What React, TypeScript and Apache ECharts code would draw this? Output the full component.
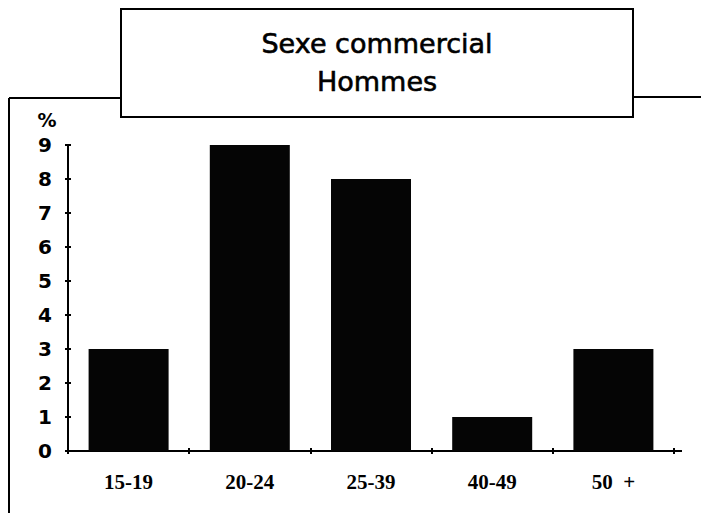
import React, { useEffect, useRef } from "react";
import * as echarts from "echarts";

const categories = ["15-19", "20-24", "25-39", "40-49", "50  +"];
const values = [3, 9, 8, 1, 3];
const yTicks = [0, 1, 2, 3, 4, 5, 6, 7, 8, 9];
const titleLines = ["Sexe commercial", "Hommes"];
const unitLabel = "%";

export default function App() {
  const ref = useRef<HTMLDivElement>(null);
  useEffect(() => {
    if (!ref.current) return;
    const chart = echarts.init(ref.current, null, { renderer: "svg" });
    const yMax = yTicks[yTicks.length - 1];
    const tickStyle = { color: "#000", width: 2 };
    chart.setOption({
      animation: false,
      backgroundColor: "#fff",
      grid: { left: 68, top: 145, right: 27, bottom: 62 },
      xAxis: [
        {
          type: "category",
          data: categories,
          boundaryGap: true,
          axisLine: { show: true, lineStyle: { color: "#000", width: 2 } },
          axisTick: { show: true, inside: false, length: 3, lineStyle: tickStyle },
          axisLabel: {
            color: "#000",
            fontFamily: "Liberation Serif",
            fontWeight: "bold",
            fontSize: 21,
            margin: 20,
          },
          splitLine: { show: false },
        },
        {
          type: "category",
          data: categories,
          position: "bottom",
          boundaryGap: true,
          axisLine: { show: false },
          axisTick: { show: true, inside: true, length: 3, lineStyle: tickStyle },
          axisLabel: { show: false },
          splitLine: { show: false },
        },
      ],
      yAxis: [
        {
          type: "value",
          min: 0,
          max: yMax,
          interval: 1,
          axisLine: { show: true, lineStyle: { color: "#000", width: 2 } },
          axisTick: { show: true, inside: false, length: 3, lineStyle: tickStyle },
          axisLabel: {
            color: "#000",
            fontFamily: "DejaVu Sans",
            fontWeight: "bold",
            fontSize: 20,
            margin: 16,
          },
          splitLine: { show: false },
        },
        {
          type: "value",
          min: 0,
          max: yMax,
          interval: 1,
          position: "left",
          axisLine: { show: false },
          axisTick: { show: true, inside: true, length: 3, lineStyle: tickStyle },
          axisLabel: { show: false },
          splitLine: { show: false },
        },
      ],
      series: [
        {
          type: "bar",
          data: values,
          barWidth: 80,
          itemStyle: { color: "#050505" },
        },
      ],
      graphic: [
        { type: "line", shape: { x1: 9, y1: 98, x2: 121, y2: 98 }, style: { stroke: "#000", lineWidth: 2 } },
        { type: "line", shape: { x1: 9, y1: 98, x2: 9, y2: 513 }, style: { stroke: "#000", lineWidth: 2 } },
        { type: "line", shape: { x1: 633, y1: 97, x2: 701, y2: 97 }, style: { stroke: "#000", lineWidth: 2 } },
        { type: "line", shape: { x1: 674, y1: 451, x2: 682, y2: 451 }, style: { stroke: "#000", lineWidth: 2 } },
        {
          type: "rect",
          shape: { x: 121, y: 9, width: 512, height: 108 },
          style: { fill: "#fff", stroke: "#000", lineWidth: 2 },
        },
        {
          type: "text",
          x: 377,
          y: 43,
          style: {
            text: titleLines[0],
            font: "27px 'DejaVu Sans'",
            fill: "#000",
            stroke: "#000",
            lineWidth: 0.6,
            align: "center",
            verticalAlign: "middle",
          },
        },
        {
          type: "text",
          x: 377,
          y: 81,
          style: {
            text: titleLines[1],
            font: "27px 'DejaVu Sans'",
            fill: "#000",
            stroke: "#000",
            lineWidth: 0.6,
            align: "center",
            verticalAlign: "middle",
          },
        },
        {
          type: "text",
          x: 47,
          y: 120,
          style: {
            text: unitLabel,
            font: "bold 19px 'DejaVu Sans'",
            fill: "#000",
            align: "center",
            verticalAlign: "middle",
          },
        },
      ],
    });
    return () => chart.dispose();
  }, []);
  return <div ref={ref} style={{ width: 701, height: 513, position: "absolute", left: 0, top: 0 }} />;
}
